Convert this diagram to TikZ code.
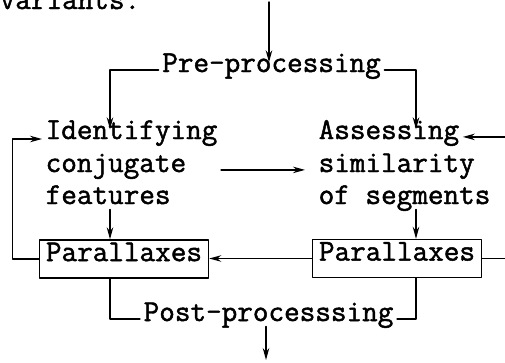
\documentclass[tikz,border=0pt]{standalone}
\usepackage{fontspec}
\newfontfamily\typer{Latin Modern Mono}[FakeBold=1.6]
\usetikzlibrary{arrows.meta}
\tikzset{
  every picture/.style={line join=round, line cap=round, >=Stealth},
  lbl/.style={font=\typer\fontsize{30.3}{36}\selectfont, inner sep=3pt, text height=0.6em, text depth=0.18em},
  parbox/.style={lbl, draw, inner xsep=6.5pt, minimum height=38pt},
  flow/.style={line width=1.4pt},
  tip/.style={-{Stealth[length=12pt,width=6.5pt]}},
}

\begin{document}
\begin{tikzpicture}[x=1pt,y=-1pt,flow]
\useasboundingbox (0,0) rectangle (505,362);
\coordinate (lcol) at (110,0);
\coordinate (rcol) at (416,0);
\coordinate (redge) at (505,0);
\coordinate (in) at (269,2);
\coordinate (out) at (266,360);
\node[lbl,anchor=base west,inner sep=0] (prev) at (-1,9) {variants.};
\node[lbl,anchor=base] (pre) at (271.5,72) {Pre-processing};
\node[lbl,anchor=base west] (identA) at (42,139) {Identifying};
\node[lbl,anchor=base west] (identB) at (42,172) {conjugate};
\node[lbl,anchor=base west] (identC) at (42,204) {features};
\node[lbl,anchor=base west] (assessA) at (315,139) {Assessing};
\node[lbl,anchor=base west] (assessB) at (315,172) {similarity};
\node[lbl,anchor=base west] (assessC) at (315,204) {of segments};
\node[parbox] (parL) at (124,259) {Parallaxes};
\node[parbox] (parR) at (397,258.5) {Parallaxes};
\node[lbl,anchor=base] (post) at (268.5,321) {Post-processsing};
\draw[tip] (in) -- (in |- pre.north);
\draw[tip] (pre.west) -| (identA.north -| lcol);
\draw[tip] (pre.east) -| (assessA.north -| rcol);
\draw[tip,shorten >=10pt] (identA.east |- identB.east) -- (assessB.west);
\draw[tip] (assessA.east -| redge) -- (assessA.east);
\draw[tip] (identC.south -| lcol) -- (parL.north -| lcol);
\draw[tip] (assessC.south -| rcol) -- (parR.north -| rcol);
\draw[tip] (parR.west) -- (parL.east |- parR.west);
\draw (parR.east) -- (parR.east -| redge);
\draw[tip] (parL.west) -- ++(-26,0) |- (identA.base west);
\draw (parL.south -| lcol) |- (post.west);
\draw (parR.south -| rcol) |- (post.east);
\draw[tip] (post.south -| out) -- (out);
\end{tikzpicture}
\end{document}
